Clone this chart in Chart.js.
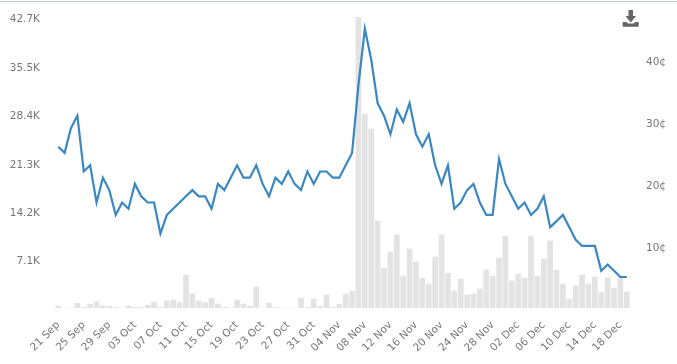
<!DOCTYPE html>
<html>
<head>
<meta charset="utf-8">
<title>Price and volume</title>
<script src="https://cdn.jsdelivr.net/npm/chart.js@4"></script>
<style>
  body { margin: 0; background: #fff; }
  #wrap { position: relative; width: 677px; height: 364px; overflow: hidden; }
  #topline { position: absolute; left: 0; top: 1px; width: 677px; height: 1px; background: #c3cbce; }
  #dl { position: absolute; left: 622px; top: 9px; }
</style>
</head>
<body>
<div id="wrap">
  <canvas id="pricechart" width="677" height="364"></canvas>
  <div id="topline"></div>
  <svg id="dl" width="18" height="18" viewBox="0 0 18 18">
    <path d="M6.500 1h4.500v6h3l-5.200 6.500L3.500 7h3z" fill="#666"/>
    <path d="M0.700 13h3.500l2 1.500h5.200l2-1.500h3.300v4.700H0.700z" fill="#666"/>
  </svg>
</div>
<script>
const dates = [
  "21 Sep","22 Sep","23 Sep","24 Sep","25 Sep","26 Sep","27 Sep","28 Sep","29 Sep","30 Sep",
  "01 Oct","02 Oct","03 Oct","04 Oct","05 Oct","06 Oct","07 Oct","08 Oct","09 Oct","10 Oct",
  "11 Oct","12 Oct","13 Oct","14 Oct","15 Oct","16 Oct","17 Oct","18 Oct","19 Oct","20 Oct",
  "21 Oct","22 Oct","23 Oct","24 Oct","25 Oct","26 Oct","27 Oct","28 Oct","29 Oct","30 Oct",
  "31 Oct","01 Nov","02 Nov","03 Nov","04 Nov","05 Nov","06 Nov","07 Nov","08 Nov","09 Nov",
  "10 Nov","11 Nov","12 Nov","13 Nov","14 Nov","15 Nov","16 Nov","17 Nov","18 Nov","19 Nov",
  "20 Nov","21 Nov","22 Nov","23 Nov","24 Nov","25 Nov","26 Nov","27 Nov","28 Nov","29 Nov",
  "30 Nov","01 Dec","02 Dec","03 Dec","04 Dec","05 Dec","06 Dec","07 Dec","08 Dec","09 Dec",
  "10 Dec","11 Dec","12 Dec","13 Dec","14 Dec","15 Dec","16 Dec","17 Dec","18 Dec","19 Dec"
];

// price in cents (right axis)
const price = [
  26,25,29,31,22,23,17,21,19,15,
  17,16,20,18,17,17,12,15,16,17,
  18,19,18,18,16,20,19,21,23,21,
  21,23,20,18,21,20,22,20,19,22,
  20,22,22,21,21,23,25,36,45,40,
  33,31,28,32,30,33,28,26,28,23,
  20,23,16,17,19,20,17,15,15,24,
  20,18,16,17,15,16,18,13,14,15,
  13,11,10,10,10,6,7,6,5,5
];

// volume (left axis)
const volume = [
  290,0,0,690,100,540,880,340,290,100,
  0,290,100,100,400,880,100,1030,1180,780,
  4860,2060,1030,780,1430,590,100,0,1180,590,
  290,3090,0,690,100,0,0,0,1430,100,
  1320,290,1910,100,590,2060,2500,42850,28560,26350,
  12800,5840,8240,10750,4710,8680,6770,4370,3530,7510,
  10750,5110,2500,4270,1910,2060,2800,5590,4710,7360,
  10600,3970,5000,4420,10600,4710,7210,9860,5590,3530,
  1320,3240,4860,3530,4560,2360,4420,2940,4420,2360
];

const volumeTicks = [7100, 14200, 21300, 28400, 35500, 42700];
const priceTicks = [10, 20, 30, 40];

const tickFont = { family: "'DejaVu Sans'", size: 10.5 };
const tickColor = '#777';

// the y labels sit a little below their values in the original
function nudgeLabels(axis, px) {
  axis.getPixelForTick = function (index) {
    return this.getPixelForValue(this.ticks[index].value) + px;
  };
}

const ctx = document.getElementById('pricechart').getContext('2d');
const priceChart = new Chart(ctx, {
  data: {
    labels: dates,
    datasets: [
      {
        type: 'line',
        label: 'Price',
        data: price,
        yAxisID: 'y2',
        borderColor: '#3a87c2',
        borderWidth: 2.2,
        pointRadius: 0,
        tension: 0,
        fill: false,
        order: 0
      },
      {
        type: 'bar',
        label: 'Volume',
        data: volume,
        yAxisID: 'y',
        backgroundColor: '#e3e3e3',
        barThickness: 5,
        order: 1
      }
    ]
  },
  options: {
    responsive: false,
    animation: false,
    layout: { padding: { top: 17, left: 0, right: 0, bottom: 0 } },
    plugins: { legend: { display: false }, tooltip: { enabled: false } },
    scales: {
      x: {
        grid: { display: false },
        border: { display: false },
        afterFit: function (axis) { axis.height = 56; },
        ticks: {
          autoSkip: false,
          minRotation: 45,
          maxRotation: 45,
          padding: 3,
          color: tickColor,
          font: tickFont,
          callback: function (value, index) {
            return index % 4 == 0 ? dates[index] : '';
          }
        }
      },
      y: {
        position: 'left',
        min: 0,
        max: 42850,
        grid: { display: false, drawTicks: false },
        border: { display: false },
        afterFit: function (axis) {
          axis.width = 55;
          axis.paddingTop = 0;
          axis.paddingBottom = 0;
        },
        afterBuildTicks: function (axis) {
          axis.ticks = volumeTicks.map(v => ({ value: v }));
          nudgeLabels(axis, 1.5);
        },
        ticks: {
          padding: 15,
          color: tickColor,
          font: tickFont,
          callback: function (value) {
            return (value / 1000).toFixed(1) + 'K';
          }
        }
      },
      y2: {
        position: 'right',
        min: 0,
        max: 46.9,
        grid: { display: false, drawTicks: false },
        border: { display: false },
        afterFit: function (axis) {
          axis.width = 47;
          axis.paddingTop = 0;
          axis.paddingBottom = 0;
        },
        afterBuildTicks: function (axis) {
          axis.ticks = priceTicks.map(v => ({ value: v }));
          nudgeLabels(axis, 2);
        },
        ticks: {
          padding: 16,
          color: tickColor,
          font: tickFont,
          callback: function (value) {
            return value + '¢';
          }
        }
      }
    }
  }
});
</script>
</body>
</html>
